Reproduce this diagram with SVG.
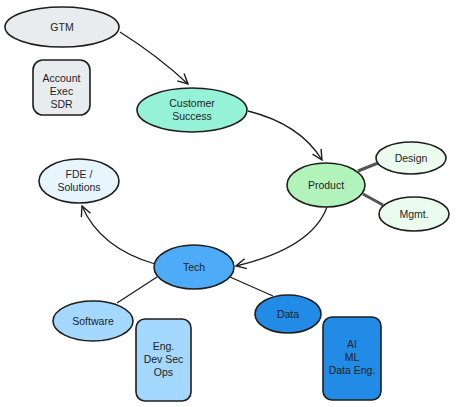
<svg xmlns="http://www.w3.org/2000/svg" width="457" height="407" viewBox="0 0 457 407">
<defs>
<style>
.n{stroke:#1e1e1e;stroke-width:1.6}
.t{font-family:"Liberation Sans",sans-serif;font-size:10.5px;fill:#1e1e1e;text-anchor:middle}
.c{fill:none;stroke:#1e1e1e;stroke-width:1.3}
.g{fill:none;stroke:#555;stroke-width:3}
</style>
<marker id="ah" viewBox="0 0 12 12" refX="11" refY="6" markerWidth="12" markerHeight="12" markerUnits="userSpaceOnUse" orient="auto">
<path d="M1,1 L11,6 L1,11" fill="none" stroke="#1e1e1e" stroke-width="1.4"/>
</marker>
</defs>
<rect width="457" height="407" fill="#ffffff"/>
<g id="connectors">
<path class="c" d="M120,32 Q158,56 188,84" marker-end="url(#ah)"/>
<path class="c" d="M248,111 Q300,124 322,160" marker-end="url(#ah)"/>
<path class="c" d="M327,207 Q312,248 236,266" marker-end="url(#ah)"/>
<path class="c" d="M155,264 Q100,248 82,206" marker-end="url(#ah)"/>
<path class="g" d="M358,171 L378,163"/>
<path class="g" d="M363,194 L383,205"/>
<path class="c" d="M157,277 L117,303"/>
<path class="c" d="M230,277 L273,296"/>
</g>
<g id="gtm"><ellipse class="n" cx="62" cy="27" rx="57" ry="20" fill="#e9ecef"/><text class="t" x="62" y="31">GTM</text></g>
<g id="account"><rect class="n" x="33" y="60" width="57" height="55" rx="10" fill="#e9ecef"/><text class="t" x="61.5" y="82">Account</text><text class="t" x="61.5" y="95">Exec</text><text class="t" x="61.5" y="108">SDR</text></g>
<g id="customer-success"><ellipse class="n" cx="192" cy="110" rx="55" ry="22" fill="#96f2d7"/><text class="t" x="192" y="107">Customer</text><text class="t" x="192" y="120">Success</text></g>
<g id="product"><ellipse class="n" cx="326" cy="185" rx="39" ry="22" fill="#b2f2bb"/><text class="t" x="326" y="189">Product</text></g>
<g id="design"><ellipse class="n" cx="411" cy="158" rx="35" ry="16" fill="#ebfbee"/><text class="t" x="411" y="162">Design</text></g>
<g id="mgmt"><ellipse class="n" cx="414" cy="214" rx="35" ry="17" fill="#ebfbee"/><text class="t" x="414" y="218">Mgmt.</text></g>
<g id="fde"><ellipse class="n" cx="79" cy="181" rx="40" ry="22" fill="#e7f5ff"/><text class="t" x="79" y="178">FDE /</text><text class="t" x="79" y="191">Solutions</text></g>
<g id="tech"><ellipse class="n" cx="194" cy="267" rx="40" ry="22" fill="#4dabf7"/><text class="t" x="194" y="271">Tech</text></g>
<g id="software"><ellipse class="n" cx="93" cy="321" rx="40" ry="20" fill="#a5d8ff"/><text class="t" x="93" y="325">Software</text></g>
<g id="eng"><rect class="n" x="136" y="319" width="55" height="82" rx="9" fill="#a5d8ff"/><text class="t" x="163.5" y="350">Eng.</text><text class="t" x="163.5" y="363">Dev Sec</text><text class="t" x="163.5" y="376">Ops</text></g>
<g id="data"><ellipse class="n" cx="288" cy="314" rx="33" ry="19" fill="#228be6"/><text class="t" x="288" y="318">Data</text></g>
<g id="ai"><rect class="n" x="323" y="317" width="58" height="83" rx="9" fill="#228be6"/><text class="t" x="352" y="348">AI</text><text class="t" x="352" y="361">ML</text><text class="t" x="352" y="374">Data Eng.</text></g>
</svg>
